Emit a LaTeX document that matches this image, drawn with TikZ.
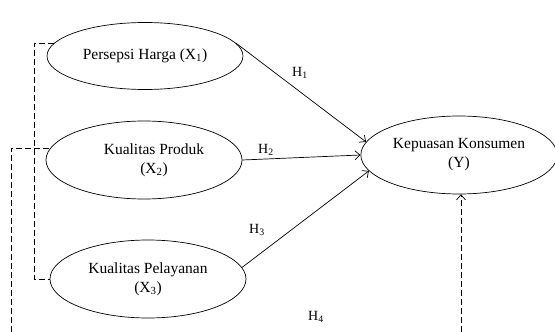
\documentclass[tikz,border=0pt]{standalone}
\usepackage{fontspec}
\setmainfont{Liberation Serif}
\usetikzlibrary{shapes.geometric,arrows.meta,positioning}

\begin{document}
\begin{tikzpicture}[x=1pt, y=-1pt,
  latent/.style={ellipse, draw, line width=0.7pt, minimum width=196pt, minimum height=78pt, align=center, font=\fontsize{15.5}{19}\selectfont},
  path/.style={line width=0.7pt, -{Straight Barb[length=5pt,width=9pt]}},
  link/.style={line width=0.7pt, dash pattern=on 6pt off 3pt},
  hyp/.style={font=\fontsize{14}{16}\selectfont}]
\useasboundingbox (0,0) rectangle (555,332);
% latent variables
\node[latent, minimum height=67pt] (x1) at (145,56) {Persepsi Harga (X\textsubscript{1})};
\node[latent] (x2) at (144,160) {\hspace*{20pt}Kualitas Produk\\\hspace*{20pt}(X\textsubscript{2})};
\node[latent] (x3) at (148,279) {Kualitas Pelayanan\\(X\textsubscript{3})};
\node[latent, minimum width=192pt] (y) at (459,155) {Kepuasan Konsumen\\(Y)};
% hypotheses
\draw[path] (x1.8) -- (y.172);
\draw[path] (x2.east) -- (y.west);
\draw[path] (x3.7) -- (y.190);
\node[hyp] (h1) at (300,73) {H\textsubscript{1}};
\node[hyp] (h2) at (266,150) {H\textsubscript{2}};
\node[hyp] (h3) at (257,230) {H\textsubscript{3}};
\node[hyp] (h4) at (316,317) {H\textsubscript{4}};
% simultaneous
\coordinate (b1) at (11,332);
\coordinate (b2) at (461,332);
\draw[link] (x1.172) -| ++(-20,0) |- (x3.west);
\draw[link] (b1) |- (x2.173);
\draw[link, -{Straight Barb[length=5pt,width=9pt]}] (b2) -- (b2 |- y.south);
\end{tikzpicture}
\end{document}
